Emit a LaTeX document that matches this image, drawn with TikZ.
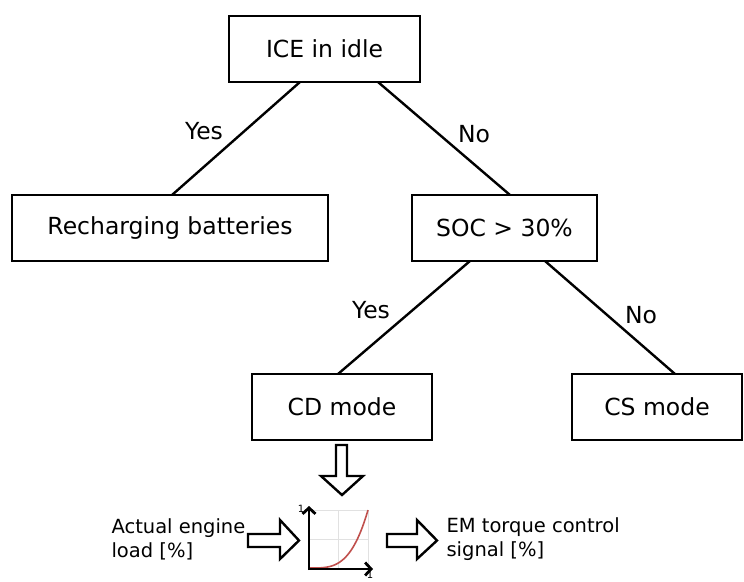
\documentclass[tikz,border=0pt]{standalone}
\usepackage{fontspec}
\setmainfont{DejaVu Sans}
\usetikzlibrary{arrows.meta}
\definecolor{curvered}{RGB}{192,80,77}
\definecolor{gridgray}{RGB}{225,225,225}
\begin{document}
\begin{tikzpicture}[x=1pt,y=-1pt,
  box/.style={draw,line width=2.4pt,minimum height=66pt,inner sep=0pt,font=\fontsize{23.5}{28}\selectfont},
  link/.style={line width=2.4pt},
  lbl/.style={font=\fontsize{23.5}{28}\selectfont},
  small/.style={font=\fontsize{19.5}{24}\selectfont,align=left,anchor=west},
  blk/.style={draw,line width=2.4pt,fill=white,line join=miter}]
\useasboundingbox (0,0) rectangle (744,581);
\node[box,minimum width=191pt] (ice) at (324.5,49) {ICE in idle};
\node[box,minimum width=316pt] (rech) at (170,228) {Recharging batteries};
\node[box,minimum width=185pt] (soc) at (504.5,228) {SOC > 30\%};
\node[box,minimum width=180pt] (cd) at (342,407) {CD mode};
\node[box,minimum width=170pt] (cs) at (657,407) {CS mode};
\coordinate (a1) at (300,82); \coordinate (a2) at (172,195);
\coordinate (b1) at (378,82); \coordinate (b2) at (510,195);
\coordinate (c1) at (470,261); \coordinate (c2) at (338,374);
\coordinate (d1) at (545,261); \coordinate (d2) at (675,374);
\draw[link] (a1) -- (a2);
\draw[link] (b1) -- (b2);
\draw[link] (c1) -- (c2);
\draw[link] (d1) -- (d2);
\node[lbl] (y1) at (204,131) {Yes};
\node[lbl] (n1) at (474,134) {No};
\node[lbl] (y2) at (371,310) {Yes};
\node[lbl] (n2) at (641,315) {No};
% down block arrow
\draw[blk] (336,445) -- (347,445) -- (347,476) -- (363,476) -- (342,495) -- (321,476) -- (336,476) -- cycle;
% left block arrow
\draw[blk] (248,534) -- (280,534) -- (280,520) -- (299,540.5) -- (280,559) -- (280,547) -- (248,547) -- cycle;
% right block arrow
\draw[blk] (387,534) -- (417,534) -- (417,520) -- (437,540.5) -- (417,559) -- (417,547) -- (387,547) -- cycle;
% chart
\draw[gridgray,line width=0.8pt] (309,510) rectangle (368,569);
\draw[gridgray,line width=0.8pt] (338.5,510) -- (338.5,569);
\draw[gridgray,line width=0.8pt] (309,539.5) -- (368,539.5);
\draw[curvered,line width=1.6pt,domain=0:1,samples=50] plot ({309+59*\x},{568-58*pow(\x,3.5)});
\draw[line width=2.8pt,-{Straight Barb[length=6pt,width=13pt,line width=2.8pt]}] (309,570) -- (309,506);
\draw[line width=2.8pt,-{Straight Barb[length=6pt,width=13pt,line width=2.8pt]}] (308,569) -- (373,569);
\node[font=\fontsize{10}{11}\selectfont] (one1) at (301,509) {1};
\node[font=\fontsize{10}{11}\selectfont] (one2) at (370,575) {1};
\node[small] (inp) at (108,539) {Actual engine\\load [\%]};
\node[small] (out) at (443,539) {EM torque control\\signal [\%]};
\end{tikzpicture}
\end{document}
